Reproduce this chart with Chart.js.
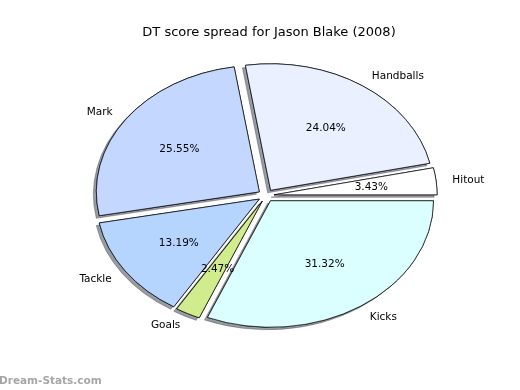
<!DOCTYPE html>
<html>
<head>
<meta charset="utf-8">
<script src="https://cdn.jsdelivr.net/npm/chart.js@4/dist/chart.umd.min.js"></script>
<style>
  html, body { margin: 0; padding: 0; background: #fff; }
  #wrap { width: 520px; height: 390px; position: relative; }
</style>
</head>
<body>
<div id="wrap"><canvas id="c" width="520" height="390"></canvas></div>
<script>
// Data (clockwise order starting at 3 o'clock)
const titleText = 'DT score spread for Jason Blake (2008)';
const categories = ['Kicks', 'Goals', 'Tackle', 'Mark', 'Handballs', 'Hitout'];
const values = [31.32, 2.47, 13.19, 25.55, 24.04, 3.43];
const sliceColors = ['#dbffff', '#d0ec8c', '#b5d5ff', '#c4d8ff', '#eaf0ff', '#ffffff'];
const watermark = 'Dream-Stats.com';

const RX = 163, RY = 126.5, CX = 266, CY = 195.5;
const EXPLODE = 0.05;
const TEXT_DY = 0.7;
const FONT = '"DejaVu Sans", sans-serif';

function placeArc(ctx, arc) {
  const a = (arc.startAngle + arc.endAngle) / 2;
  const ox = CX + EXPLODE * RX * Math.cos(a);
  const oy = CY + EXPLODE * RY * Math.sin(a);
  ctx.translate(ox, oy);
  ctx.scale(1, RY / RX);
  ctx.translate(-arc.x, -arc.y);
}

const ellipsePlugin = {
  id: 'ellipse',
  beforeDatasetsDraw(chart) {
    const ctx = chart.ctx;
    const meta = chart.getDatasetMeta(0);
    const items = meta.data.slice().reverse();
    items.forEach(arc => {
      // shadow pass
      ctx.save();
      ctx.shadowColor = 'rgba(50,56,70,0.5)';
      ctx.shadowOffsetX = -3;
      ctx.shadowOffsetY = 2.5;
      ctx.shadowBlur = 0;
      placeArc(ctx, arc);
      arc.draw(ctx);
      ctx.restore();
      // clean pass on top
      ctx.save();
      placeArc(ctx, arc);
      arc.draw(ctx);
      ctx.restore();
    });
    return false;
  },
  afterDraw(chart) {
    const ctx = chart.ctx;
    const meta = chart.getDatasetMeta(0);
    const data = chart.data.datasets[0].data;
    const total = data.reduce((s, v) => s + v, 0);
    ctx.save();
    ctx.fillStyle = '#000';
    ctx.font = '10.5px ' + FONT;
    ctx.textBaseline = 'middle';
    meta.data.forEach((arc, i) => {
      const a = (arc.startAngle + arc.endAngle) / 2;
      const c = Math.cos(a), s = Math.sin(a);
      const ox = CX + EXPLODE * RX * c;
      const oy = CY + EXPLODE * RY * s;
      ctx.textAlign = c > 0 ? 'left' : 'right';
      ctx.fillText(chart.data.labels[i], ox + 1.1 * RX * c, oy + 1.1 * RY * s + TEXT_DY);
      ctx.textAlign = 'center';
      const pct = (data[i] / total * 100).toFixed(2) + '%';
      ctx.fillText(pct, ox + 0.6 * RX * c, oy + 0.6 * RY * s + TEXT_DY);
    });
    ctx.font = '13px ' + FONT;
    ctx.textAlign = 'center';
    ctx.textBaseline = 'alphabetic';
    ctx.fillText(titleText, 269, 36);
    ctx.font = 'bold 10.5px ' + FONT;
    ctx.fillStyle = '#a6a6a6';
    ctx.textAlign = 'left';
    ctx.fillText(watermark, -1, 384);
    ctx.restore();
  }
};

new Chart(document.getElementById('c'), {
  type: 'pie',
  data: {
    labels: categories,
    datasets: [{
      data: values,
      backgroundColor: sliceColors,
      borderColor: '#000',
      borderWidth: 0.8,
      borderAlign: 'center',
      offset: 0
    }]
  },
  options: {
    responsive: false,
    animation: false,
    rotation: 90,
    radius: RX,
    layout: { padding: { left: 10, right: 0, top: 0, bottom: 0 } },
    plugins: {
      legend: { display: false },
      tooltip: { enabled: false },
      title: { display: false }
    },
    events: []
  },
  plugins: [ellipsePlugin]
});
</script>
</body>
</html>
